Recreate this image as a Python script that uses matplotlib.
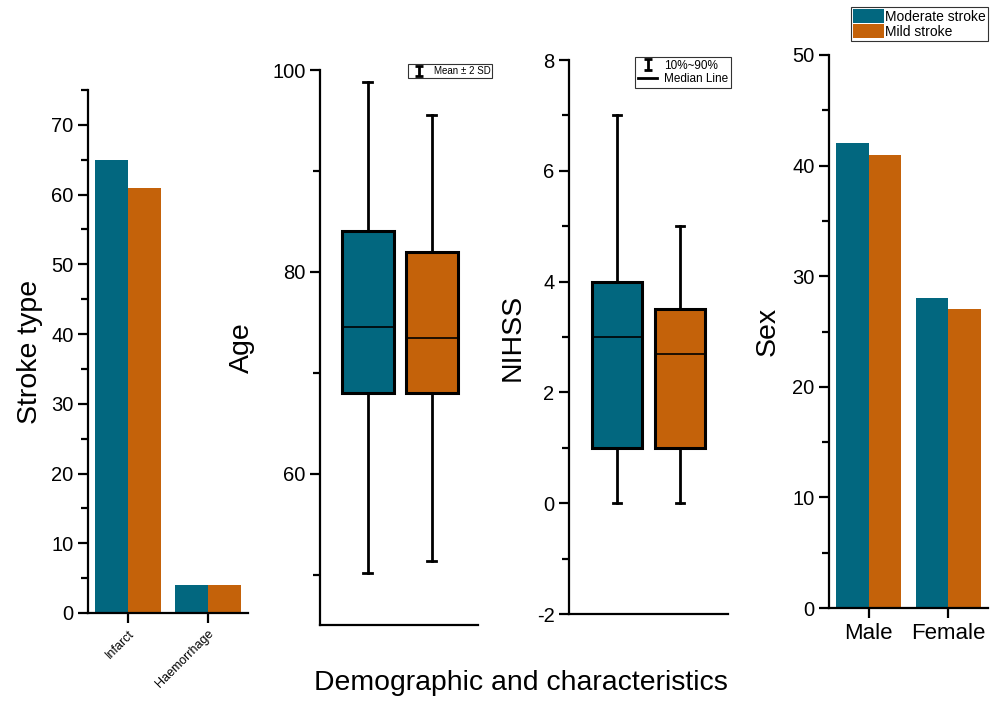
import numpy as np
import matplotlib
matplotlib.use("Agg")
import matplotlib.pyplot as plt
from matplotlib.patches import Patch
from matplotlib.lines import Line2D
from matplotlib.ticker import MultipleLocator

plt.rcParams['font.family'] = ['Liberation Sans', 'DejaVu Sans']
plt.rcParams['axes.unicode_minus'] = False

# ---------------- data ----------------
groups = ["Moderate stroke", "Mild stroke"]
colors = ["#02677f", "#c4620a"]

stroke_cats = ["Infarct", "Haemorrhage"]
stroke_moderate = [65, 4]
stroke_mild = [61, 4]

sex_cats = ["Male", "Female"]
sex_moderate = [42, 28]
sex_mild = [41, 27]

# Age box stats: whislo, q1, med, q3, whishi
age_moderate = [50.2, 68.0, 74.5, 84.0, 98.8]
age_mild = [51.3, 68.0, 73.4, 82.0, 95.5]

# NIHSS box stats
nihss_moderate = [0.0, 1.0, 3.0, 4.0, 7.0]
nihss_mild = [0.0, 1.0, 2.7, 3.5, 5.0]

W, H = 990, 713
fig = plt.figure(figsize=(W / 100, H / 100), dpi=100)


def rect(l, r, t, b):
    return [l / W, (H - b) / H, (r - l) / W, (b - t) / H]


def style(ax):
    for s in ["top", "right"]:
        ax.spines[s].set_visible(False)
    for s in ["left", "bottom"]:
        ax.spines[s].set_linewidth(1.6)
    ax.tick_params(axis="y", which="major", direction="out", length=7, width=1.6, labelsize=14.5)
    ax.tick_params(axis="y", which="minor", direction="out", length=5, width=1.6)
    ax.tick_params(axis="x", which="major", direction="out", length=7, width=1.6)


def bars(ax, cats, a, b):
    x = np.arange(len(cats))
    w = 0.41
    ax.bar(x - w / 2, a, w, color=colors[0], edgecolor="none")
    ax.bar(x + w / 2, b, w, color=colors[1], edgecolor="none")
    ax.set_xticks(x)
    ax.set_xlim(-0.5, 1.5)


def boxes(ax, sa, sb):
    stats = []
    for s in (sa, sb):
        stats.append(dict(whislo=s[0], q1=s[1], med=s[2], q3=s[3], whishi=s[4], fliers=[]))
    bp = ax.bxp(stats, positions=[1, 2], widths=0.8, patch_artist=True, showfliers=False,
                boxprops=dict(linewidth=2.2, edgecolor="black"),
                whiskerprops=dict(linewidth=2.0, color="black"),
                capprops=dict(linewidth=2.0, color="black"),
                medianprops=dict(linewidth=1.2, color="black"),
                capwidths=0.14)
    for patch, c in zip(bp["boxes"], colors):
        patch.set_facecolor(c)
    ax.set_xticks([])


YL = 20.5

# Panel 1: stroke type
ax1 = fig.add_axes(rect(88, 248, 90, 613))
bars(ax1, stroke_cats, stroke_moderate, stroke_mild)
ax1.set_ylim(0, 75)
ax1.yaxis.set_major_locator(MultipleLocator(10))
ax1.yaxis.set_minor_locator(MultipleLocator(5))
style(ax1)
ax1.set_xticklabels(stroke_cats, rotation=45, ha="right", rotation_mode="anchor", fontsize=9)
ax1.set_ylabel("Stroke type", fontsize=YL, labelpad=6)

# Panel 2: age
ax2 = fig.add_axes(rect(320, 478, 70, 625))
boxes(ax2, age_moderate, age_mild)
ax2.set_xlim(0.25, 2.72)
ax2.set_ylim(45, 100)
ax2.yaxis.set_major_locator(MultipleLocator(20))
ax2.yaxis.set_minor_locator(MultipleLocator(10))
style(ax2)
ax2.tick_params(axis="x", length=0)
ax2.set_ylabel("Age", fontsize=YL, labelpad=12)
eb = ax2.errorbar([np.nan], [np.nan], yerr=[1], fmt="none", ecolor="black",
                  elinewidth=2, capsize=3, capthick=2)
leg2 = ax2.legend([eb], ["Mean ± 2 SD"], loc="upper right", bbox_to_anchor=(1.09, 1.01),
                  fontsize=7, frameon=True, fancybox=False, handlelength=1.8,
                  borderpad=0.2, handletextpad=0.6, borderaxespad=0)
leg2.get_frame().set_edgecolor("black")
leg2.get_frame().set_linewidth(0.8)

# Panel 3: NIHSS
ax3 = fig.add_axes(rect(569, 728, 60, 614))
boxes(ax3, nihss_moderate, nihss_mild)
ax3.set_xlim(0.24, 2.76)
ax3.set_ylim(-2, 8)
ax3.yaxis.set_major_locator(MultipleLocator(2))
ax3.yaxis.set_minor_locator(MultipleLocator(1))
style(ax3)
ax3.tick_params(axis="x", length=0)
ax3.set_ylabel("NIHSS", fontsize=YL, labelpad=8)
eb3 = ax3.errorbar([np.nan], [np.nan], yerr=[1], fmt="none", ecolor="black",
                   elinewidth=2, capsize=3, capthick=2)
ml = Line2D([], [], color="black", linewidth=2)
leg3 = ax3.legend([eb3, ml], ["10%~90%", "Median Line"], loc="upper right",
                  bbox_to_anchor=(1.02, 1.006), fontsize=8.5, frameon=True, fancybox=False,
                  handlelength=1.6, borderpad=0.25, handletextpad=0.6, labelspacing=0.15,
                  borderaxespad=0)
leg3.get_frame().set_edgecolor("black")
leg3.get_frame().set_linewidth(0.8)

# Panel 4: sex
ax4 = fig.add_axes(rect(829, 988, 55, 608))
bars(ax4, sex_cats, sex_moderate, sex_mild)
ax4.set_ylim(0, 50)
ax4.yaxis.set_major_locator(MultipleLocator(10))
ax4.yaxis.set_minor_locator(MultipleLocator(5))
style(ax4)
ax4.set_xticklabels(sex_cats, fontsize=16)
ax4.set_ylabel("Sex", fontsize=YL, labelpad=8)

handles = [Patch(facecolor=c, edgecolor="none") for c in colors]
leg4 = fig.legend(handles, groups, loc="upper right", bbox_to_anchor=(988 / W, 1 - 7 / H),
                  fontsize=10, frameon=True, fancybox=False, handlelength=2.2,
                  handleheight=1.2, borderpad=0.15, handletextpad=0.1, labelspacing=0.0,
                  borderaxespad=0)
leg4.get_frame().set_edgecolor("black")
leg4.get_frame().set_linewidth(0.8)

fig.text(521 / W, 1 - 683 / H, "Demographic and characteristics", fontsize=20.4,
         ha="center", va="center")

fig.savefig("out.png", dpi=100)
